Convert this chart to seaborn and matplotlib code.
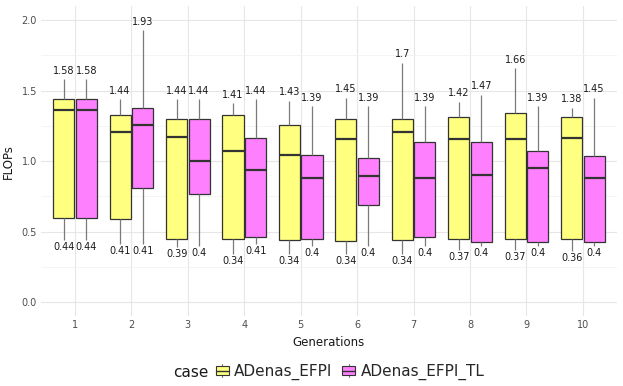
import numpy as np
import pandas as pd
import seaborn as sns
import matplotlib.pyplot as plt
from matplotlib.patches import Patch, Rectangle
from matplotlib.lines import Line2D
from matplotlib.legend_handler import HandlerBase

generations = [str(i) for i in range(1, 11)]
cases = ["ADenas_EFPI", "ADenas_EFPI_TL"]

efpi_min = [0.44, 0.41, 0.39, 0.34, 0.34, 0.34, 0.34, 0.37, 0.37, 0.36]
efpi_q1 = [0.60, 0.59, 0.445, 0.445, 0.44, 0.43, 0.44, 0.445, 0.445, 0.445]
efpi_med = [1.36, 1.21, 1.17, 1.07, 1.045, 1.16, 1.21, 1.16, 1.16, 1.165]
efpi_q3 = [1.44, 1.33, 1.30, 1.33, 1.26, 1.30, 1.30, 1.31, 1.345, 1.315]
efpi_max = [1.58, 1.44, 1.44, 1.41, 1.43, 1.45, 1.7, 1.42, 1.66, 1.38]

tl_min = [0.44, 0.41, 0.4, 0.41, 0.4, 0.4, 0.4, 0.4, 0.4, 0.4]
tl_q1 = [0.60, 0.81, 0.77, 0.465, 0.445, 0.69, 0.465, 0.425, 0.425, 0.425]
tl_med = [1.36, 1.255, 1.0, 0.935, 0.88, 0.895, 0.88, 0.905, 0.95, 0.88]
tl_q3 = [1.44, 1.375, 1.30, 1.165, 1.045, 1.025, 1.135, 1.135, 1.07, 1.035]
tl_max = [1.58, 1.93, 1.44, 1.44, 1.39, 1.39, 1.39, 1.47, 1.39, 1.45]

colors = ["#FFFF80", "#FF80FF"]

stats = {
    cases[0]: [efpi_min, efpi_q1, efpi_med, efpi_q3, efpi_max],
    cases[1]: [tl_min, tl_q1, tl_med, tl_q3, tl_max],
}

rows = []
for case, arrs in stats.items():
    for i, g in enumerate(generations):
        for arr in arrs:
            rows.append({"Generations": g, "case": case, "FLOPs": arr[i]})
df = pd.DataFrame(rows)

sns.set_theme(style="whitegrid")
plt.rcParams["font.family"] = ["DejaVu Sans"]

fig = plt.figure(figsize=(6.23, 3.86), dpi=100)
ax = fig.add_axes([0.066, 0.181, 0.924, 0.803])

sns.boxplot(
    data=df, x="Generations", y="FLOPs", hue="case", order=generations,
    hue_order=cases, palette=colors, saturation=1, whis=np.inf,
    width=0.8, gap=0.06, linecolor="#333333", linewidth=0.9,
    showcaps=False, legend=False,
    medianprops=dict(color="#333333", linewidth=1.6),
    whiskerprops=dict(color="#7a7a7a", linewidth=0.9),
    ax=ax,
)

offsets = [-0.2, 0.2]
for j, case in enumerate(cases):
    mins = stats[case][0]
    maxs = stats[case][4]
    for i in range(len(generations)):
        x = i + offsets[j]
        ax.text(x, maxs[i] + 0.025, f"{maxs[i]:g}", ha="center", va="bottom",
                fontsize=7, color="#1a1a1a")
        ax.text(x, mins[i] - 0.015, f"{mins[i]:g}", ha="center", va="top",
                fontsize=7, color="#1a1a1a")

ax.set_xlim(-0.6, 9.6)
ax.set_ylim(-0.1, 2.1)
ax.set_yticks([0.0, 0.5, 1.0, 1.5, 2.0])
ax.set_yticklabels(["0.0", "0.5", "1.0", "1.5", "2.0"])
ax.set_yticks([0.25, 0.75, 1.25, 1.75], minor=True)
ax.set_facecolor("white")
for s in ax.spines.values():
    s.set_visible(False)
ax.grid(True, which="major", color="#e6e6e6", linewidth=0.8)
ax.grid(True, which="minor", axis="y", color="#f2f2f2", linewidth=0.6)
ax.set_axisbelow(True)
ax.tick_params(axis="both", which="both", length=0, labelsize=7, labelcolor="#4d4d4d", pad=3)
ax.set_xlabel("Generations", fontsize=8.5, color="#1a1a1a", labelpad=4)
ax.set_ylabel("FLOPs", fontsize=8.5, color="#1a1a1a", labelpad=5)


class BoxKeyHandler(HandlerBase):
    def create_artists(self, legend, orig_handle, xdescent, ydescent, width, height, fontsize, trans):
        cx = width / 2 - xdescent
        bw = width * 0.9
        bh = height * 0.7
        y0 = -ydescent + (height - bh) / 2
        wl = Line2D([cx, cx], [-ydescent, -ydescent + height], color="#7a7a7a", lw=0.8, transform=trans)
        r = Rectangle((cx - bw / 2, y0), bw, bh, facecolor=orig_handle.get_facecolor(),
                      edgecolor="#333333", lw=0.8, transform=trans)
        ml = Line2D([cx - bw / 2, cx + bw / 2], [y0 + bh / 2, y0 + bh / 2], color="#333333", lw=1.0, transform=trans)
        return [wl, r, ml]


handles = [Patch(facecolor=c, edgecolor="#333333", linewidth=0.8) for c in colors]
fig.text(0.278, 0.036, "case", fontsize=11, color="#1a1a1a", va="center", ha="left")
fig.legend(handles, cases, loc="center left", bbox_to_anchor=(0.345, 0.036), ncol=2,
           frameon=False, fontsize=11, handlelength=0.95, handleheight=0.9,
           handletextpad=0.3, columnspacing=0.6, borderpad=0, borderaxespad=0,
           handler_map={Patch: BoxKeyHandler()})

fig.savefig("out.png", dpi=100)
